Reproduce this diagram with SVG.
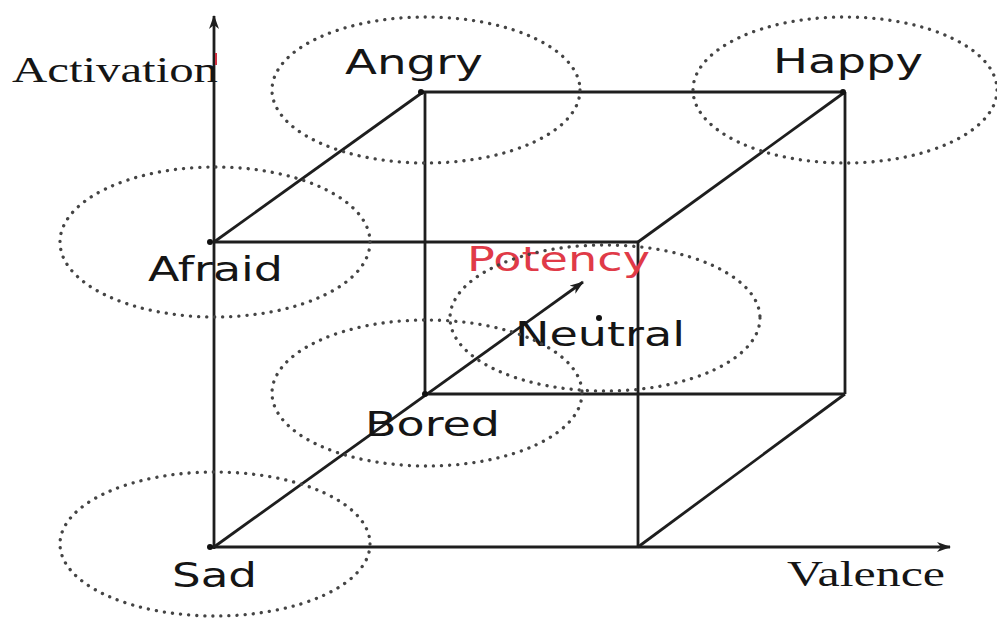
<svg xmlns="http://www.w3.org/2000/svg" width="997" height="619" viewBox="0 0 997 619">
<defs>
<style>
.ell{fill:none;stroke:#444;stroke-width:3.3;stroke-dasharray:0.1 8;stroke-linecap:round}
.ln{stroke:#1e1e1e;stroke-width:2.8;fill:none}
.sans{font-family:"DejaVu Sans",sans-serif;font-size:33px;fill:#151515}
.serif{font-family:"Liberation Serif",serif;font-size:35px;fill:#151515}
.dot{fill:#111}
</style>
<marker id="arr" viewBox="0 0 14 10" refX="13" refY="5" markerWidth="14" markerHeight="10" markerUnits="userSpaceOnUse" orient="auto">
<path d="M0,0 L14,5 L0,10 L4,5 Z" fill="#1e1e1e"/>
</marker>
</defs>
<rect width="997" height="619" fill="#fff"/>
<g id="connectors">
<line class="ln" x1="214" y1="549" x2="214" y2="16" marker-end="url(#arr)"/>
<line class="ln" x1="210" y1="547" x2="950" y2="547" marker-end="url(#arr)"/>
<line x1="216" y1="53" x2="216" y2="65" stroke="#d03040" stroke-width="2"/>
<line class="ln" x1="214" y1="242" x2="638" y2="242"/>
<line class="ln" x1="638" y1="242" x2="638" y2="547"/>
<line class="ln" x1="420" y1="92" x2="845" y2="92"/>
<line class="ln" x1="425" y1="92" x2="425" y2="394"/>
<line class="ln" x1="425" y1="394" x2="845" y2="394"/>
<line class="ln" x1="845" y1="92" x2="845" y2="394"/>
<line class="ln" x1="214" y1="242" x2="423" y2="92"/>
<line class="ln" x1="638" y1="242" x2="845" y2="92"/>
<line class="ln" x1="638" y1="547" x2="845" y2="394"/>
<line class="ln" x1="214" y1="547" x2="583" y2="282" marker-end="url(#arr)"/>
<text x="467" y="271" textLength="183" lengthAdjust="spacingAndGlyphs" class="sans" style="fill:#e03a48">Potency</text>
</g>
<g id="angry">
<ellipse class="ell" cx="426" cy="90" rx="154" ry="73"/>
<circle class="dot" cx="421" cy="92" r="3"/>
<text x="345" y="74" textLength="138" lengthAdjust="spacingAndGlyphs" class="sans">Angry</text>
</g>
<g id="happy">
<ellipse class="ell" cx="845" cy="90" rx="152" ry="73"/>
<circle class="dot" cx="843" cy="92" r="3"/>
<text x="773" y="73" textLength="150" lengthAdjust="spacingAndGlyphs" class="sans">Happy</text>
</g>
<g id="afraid">
<ellipse class="ell" cx="215" cy="242" rx="155" ry="75"/>
<circle class="dot" cx="210" cy="242" r="3"/>
<text x="148" y="281" textLength="135" lengthAdjust="spacingAndGlyphs" class="sans">Afraid</text>
</g>
<g id="neutral">
<ellipse class="ell" cx="605" cy="318" rx="155" ry="73"/>
<circle class="dot" cx="599" cy="318" r="3"/>
<text x="515" y="346" textLength="170" lengthAdjust="spacingAndGlyphs" class="sans">Neutral</text>
</g>
<g id="bored">
<ellipse class="ell" cx="427" cy="393" rx="155" ry="73"/>
<circle class="dot" cx="425" cy="394" r="3"/>
<text x="365" y="436" textLength="135" lengthAdjust="spacingAndGlyphs" class="sans">Bored</text>
</g>
<g id="sad">
<ellipse class="ell" cx="215" cy="544" rx="155" ry="72"/>
<circle class="dot" cx="210" cy="547" r="3"/>
<text x="172" y="587" textLength="85" lengthAdjust="spacingAndGlyphs" class="sans">Sad</text>
</g>
<g id="axis-labels">
<text x="12" y="82" textLength="206" lengthAdjust="spacingAndGlyphs" class="serif">Activation</text>
<text x="787" y="586" textLength="158" lengthAdjust="spacingAndGlyphs" class="serif">Valence</text>
</g>
</svg>
